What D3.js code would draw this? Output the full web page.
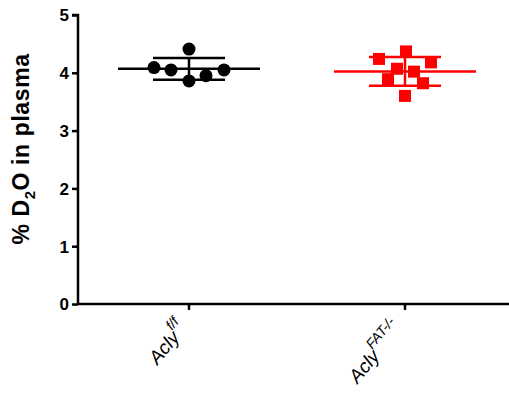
<!DOCTYPE html>
<html>
<head>
<meta charset="utf-8">
<script src="https://cdn.jsdelivr.net/npm/d3@7"></script>
<style>
  body { margin: 0; background: #fff; }
  text { font-family: "Liberation Sans", Arial, sans-serif; }
</style>
</head>
<body>
<div id="chart"></div>
<script>
const groups = ["Acly", "Acly"];
const groupSup = ["f/f", "FAT-/-"];
const groupColors = ["#000000", "#ff0000"];
const floxValues = [4.41, 4.09, 4.05, 3.86, 3.95, 4.05];
const floxOffsets = [0, -35, -18, 0, 17, 35];
const fatValues = [4.37, 4.24, 4.18, 4.07, 4.02, 3.89, 3.82, 3.60];
const fatOffsets = [1, -26, 26, -8, 9, -17, 18, 0];
const yTicks = [0, 1, 2, 3, 4, 5];

const width = 509, height = 399;
const margin = { left: 78, top: 15, bottom: 95 };

const svg = d3.select("#chart").append("svg")
    .attr("width", width)
    .attr("height", height);

const y = d3.scaleLinear().domain([0, 5]).range([304, 15]);
const x = d3.scalePoint().domain([0, 1]).range([189, 405]);

// y axis
const yAxis = svg.append("g")
    .attr("transform", `translate(${margin.left},0)`)
    .call(d3.axisLeft(y).tickValues(yTicks).tickSize(6).tickPadding(3).tickFormat(d3.format("d")));
yAxis.select(".domain").attr("stroke-width", 2.5).attr("d", `M-6,${y(5)}H0V${y(0)}`);
yAxis.selectAll(".tick line").attr("stroke-width", 2.5);
yAxis.selectAll(".tick text").attr("font-size", 17).attr("font-weight", "bold").attr("fill", "#000").attr("dy", "0.35em");

// x axis
const xAxis = svg.append("g").attr("transform", `translate(0,${y(0)})`);
xAxis.append("line").attr("x1", margin.left - 1).attr("x2", width).attr("stroke", "#000").attr("stroke-width", 2.5);
xAxis.selectAll(".xt").data([0, 1]).enter().append("line")
    .attr("x1", d => x(d)).attr("x2", d => x(d))
    .attr("y1", 0).attr("y2", 6)
    .attr("stroke", "#000").attr("stroke-width", 2.5);

const labels = xAxis.selectAll(".xl").data([0, 1]).enter().append("text")
    .attr("transform", d => `translate(${x(d) - 1},${25}) rotate(-50)`)
    .attr("text-anchor", "end")
    .attr("font-size", 19)
    .attr("fill", "#000");
labels.append("tspan").attr("font-style", "italic").text(d => groups[d]);
labels.append("tspan").attr("font-style", "italic").attr("font-size", 14).attr("dy", -11).text(d => groupSup[d]);

// y label
const yl = svg.append("text")
    .attr("transform", `translate(29,149) rotate(-90)`)
    .attr("text-anchor", "middle")
    .attr("font-size", 23)
    .attr("font-weight", "bold")
    .attr("letter-spacing", 0.6)
    .attr("fill", "#000");
yl.append("tspan").text("% D");
yl.append("tspan").attr("font-size", 15).attr("dy", 6).text("2");
yl.append("tspan").attr("dy", -6).text("O in plasma");

// mean and SD
const series = [floxValues, fatValues];
series.forEach((vals, i) => {
    const m = d3.mean(vals), sd = d3.deviation(vals);
    const cx = x(i);
    const c = groupColors[i];
    const g = svg.append("g").attr("stroke", c).attr("stroke-width", 2.5);
    g.append("line").attr("x1", cx - 71).attr("x2", cx + 71).attr("y1", y(m)).attr("y2", y(m));
    g.append("line").attr("x1", cx).attr("x2", cx).attr("y1", y(m + sd)).attr("y2", y(m - sd));
    g.append("line").attr("x1", cx - 36).attr("x2", cx + 36).attr("y1", y(m + sd)).attr("y2", y(m + sd));
    g.append("line").attr("x1", cx - 36).attr("x2", cx + 36).attr("y1", y(m - sd)).attr("y2", y(m - sd));
});

// points
svg.selectAll(".dot").data(floxValues).enter().append("circle")
    .attr("cx", (d, i) => x(0) + floxOffsets[i])
    .attr("cy", d => y(d))
    .attr("r", 6.5)
    .attr("fill", groupColors[0]);

svg.selectAll(".sq").data(fatValues).enter().append("rect")
    .attr("x", (d, i) => x(1) + fatOffsets[i] - 6)
    .attr("y", d => y(d) - 6)
    .attr("width", 12).attr("height", 12)
    .attr("fill", groupColors[1]);
</script>
</body>
</html>
